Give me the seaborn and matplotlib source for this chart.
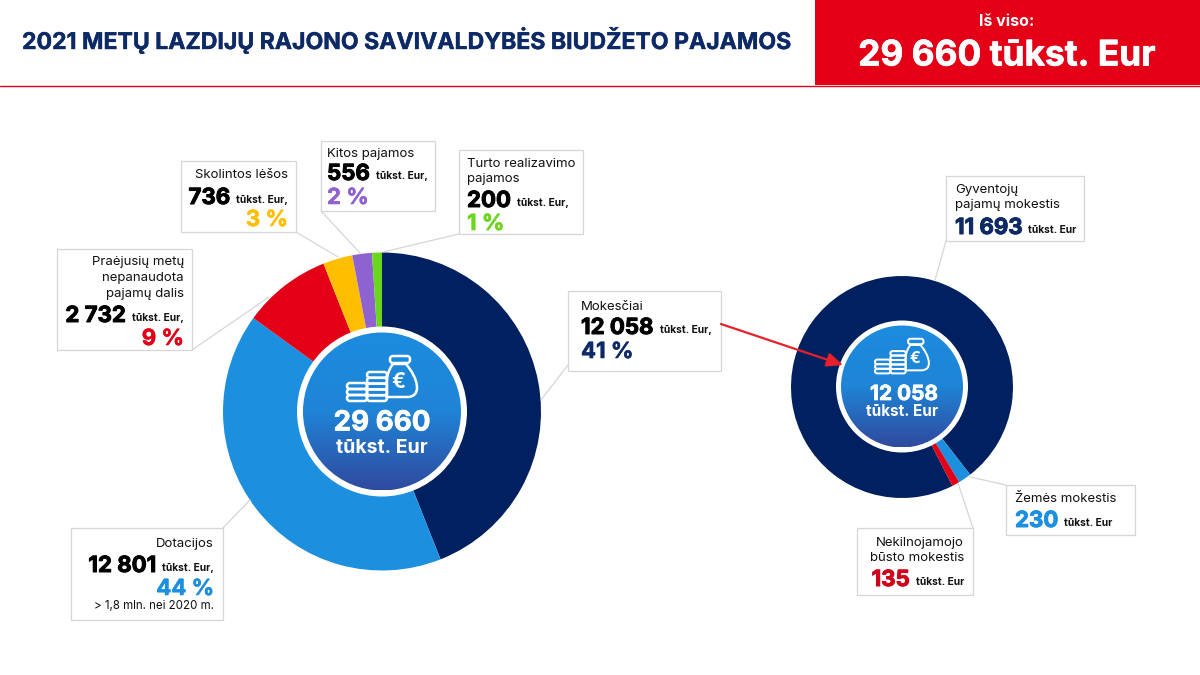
import numpy as np
import matplotlib
matplotlib.use('Agg')
import matplotlib.pyplot as plt
import matplotlib.patheffects as pe
from matplotlib.patches import Circle, Rectangle, PathPatch, FancyBboxPatch
from matplotlib.path import Path
import seaborn as sns

# Main ring: shares of the circle as drawn in the picture
main_shares = [44, 41, 9, 3, 2, 1]
main_colors = ['#00205f', '#1c8fdf', '#e30016', '#ffbe00', '#8e63cf', '#6ad71e']

# Second ring: taxes
tax_values = [11693, 230, 135]
tax_colors = ['#00205f', '#1c8fdf', '#e30016']

title_text = '2021 METŲ LAZDIJŲ RAJONO SAVIVALDYBĖS BIUDŽETO PAJAMOS'
total_label = 'Iš viso:'
total_text = '29 660 tūkst. Eur'

NAVY = '#0d2a66'
RED = '#e30016'
BOX = '#d6d6d6'

sns.set_theme(style='white')
plt.rcParams['font.family'] = ['Inter', 'DejaVu Sans']

fig = plt.figure(figsize=(12, 6.75), dpi=100, facecolor='white')


# Axes placed by pixel centre and radius so the rings land where they should
def ring_axes(cx, cy, r):
    a = fig.add_axes([(cx - r) / 1200, 1 - (cy + r) / 675, 2 * r / 1200, 2 * r / 675], zorder=1)
    a.axis('off')
    return a


ax1 = ring_axes(382, 411.5, 159)
ax1.pie(main_shares, colors=sns.color_palette(main_colors), startangle=90, counterclock=False,
        radius=1, wedgeprops={'linewidth': 0})
ax1.set_xlim(-1, 1)
ax1.set_ylim(-1, 1)

ax2 = ring_axes(902, 387, 111)
ax2.pie(tax_values, colors=sns.color_palette(tax_colors), startangle=-63, counterclock=False,
        radius=1, wedgeprops={'linewidth': 0})
ax2.set_xlim(-1, 1)
ax2.set_ylim(-1, 1)

# Overlay in image pixels for the header, boxes and texts
ax = fig.add_axes([0, 0, 1, 1], zorder=2)
ax.patch.set_alpha(0)
ax.axis('off')

gradient = np.linspace(0, 1, 256).reshape(-1, 1)
grad_cmap = sns.blend_palette(['#1c8cdf', '#1f84d6', '#2f4a9e'], as_cmap=True)


# Inter bold is lighter than the original heading face, a thin stroke fattens it
def fat(t, w=0.5):
    t.set_path_effects([pe.withStroke(linewidth=w, foreground=t.get_color())])
    return t


def hub(cx, cy, r_white, r_blue):
    ax.add_patch(Circle((cx, cy), r_white, fc='white', ec='none', zorder=3))
    im = ax.imshow(gradient, extent=(cx - r_blue, cx + r_blue, cy + r_blue, cy - r_blue),
                   cmap=grad_cmap, aspect='auto', zorder=4)
    im.set_clip_path(Circle((cx, cy), r_blue, transform=ax.transData))


def coin_stack(x, bottom, n, w, h, lw):
    for i in range(n):
        ax.add_patch(FancyBboxPatch((x, bottom - (i + 1) * h), w, h,
                                    boxstyle='round,pad=0,rounding_size=%.2f' % (h * 0.48),
                                    fc='none', ec='white', lw=lw, zorder=5))


def icon(x, y, s):
    # x, y = top left of the icon, s = scale, full size is about 71 x 46 px
    lw = 1.6 * s + 0.2
    coin_stack(x, y + 46 * s, 3, 20 * s, 6 * s, lw)
    coin_stack(x + 20 * s, y + 46 * s, 5, 20 * s, 5.8 * s, lw)
    pts = [(46, 9), (42, 14), (40, 20), (40, 26), (40, 42), (60, 42), (67, 42), (70, 38), (70, 33),
           (70, 24), (64, 15), (59, 9), (46, 9)]
    codes = [Path.MOVETO, Path.CURVE4, Path.CURVE4, Path.CURVE4, Path.LINETO, Path.LINETO,
             Path.CURVE4, Path.CURVE4, Path.CURVE4, Path.CURVE4, Path.CURVE4, Path.CURVE4, Path.CLOSEPOLY]
    bag = Path([(x + a * s, y + b * s) for a, b in pts], codes)
    ax.add_patch(PathPatch(bag, fc='none', ec='white', lw=lw, zorder=5))
    ax.add_patch(FancyBboxPatch((x + 43 * s, y + 1 * s), 20 * s, 7 * s,
                                boxstyle='round,pad=0,rounding_size=%.2f' % (3 * s),
                                fc='none', ec='white', lw=lw, zorder=5))
    ax.text(x + 52 * s, y + 27 * s, '€', color='white', fontsize=15 * s, fontweight='bold',
            ha='center', va='center', zorder=6)


hub(382, 411.5, 85, 79)
icon(347, 355, 1.0)
fat(ax.text(382, 423.5, '29 660', color='white', fontsize=20, fontweight='bold', ha='center', va='center', zorder=6))
ax.text(382, 448, 'tūkst. Eur', color='white', fontsize=14, fontweight='bold', ha='center', va='center', zorder=6)

hub(902, 386.5, 66, 61)
icon(875, 338, 0.77)
fat(ax.text(904, 394, '12 058', color='white', fontsize=15, fontweight='bold', ha='center', va='center', zorder=6))
ax.text(902, 412, 'tūkst. Eur', color='white', fontsize=11, fontweight='bold', ha='center', va='center', zorder=6)

# Header
ax.add_patch(Rectangle((815, 0), 385, 85, fc=RED, ec='none', zorder=1))
ax.plot([0, 1200], [85.5, 85.5], color=RED, lw=1, zorder=1)
fat(ax.text(22, 40, title_text, color=NAVY, fontsize=16.6, fontweight='bold', va='center', ha='left'), 0.3)
ax.text(1007, 22, total_label, color='white', fontsize=11.5, fontweight='bold', ha='center', va='center')
fat(ax.text(1007, 56, total_text, color='white', fontsize=25.4, fontweight='bold', ha='center', va='center'))

ax.set_xlim(0, 1200)
ax.set_ylim(675, 0)

renderer = fig.canvas.get_renderer()


def box(x0, y0, x1, y1, line):
    ax.plot([line[0], line[2]], [line[1], line[3]], color=BOX, lw=0.9, zorder=6)
    ax.add_patch(Rectangle((x0, y0), x1 - x0, y1 - y0, fc='white', ec=BOX, lw=0.9, zorder=7))


def label(x, ys, lines, ha):
    for y, t in zip(ys, lines):
        ax.text(x, y + 2, t, color='#111111', fontsize=9.5, ha=ha, va='center', zorder=8)


def number(x, y, num, unit, color, ha):
    n = fat(ax.text(x, y + 2, num, color=color, fontsize=16, fontweight='bold', ha=ha, va='center', zorder=8), 0.7)
    if ha == 'left':
        w = n.get_window_extent(renderer).width
        ax.text(x + w + 6, y + 4, unit, color='#111111', fontsize=7.4, fontweight='bold',
                ha='left', va='center', zorder=8)
    else:
        u = ax.text(x, y + 4, unit, color='#111111', fontsize=7.4, fontweight='bold',
                    ha='right', va='center', zorder=8)
        n.set_x(x - u.get_window_extent(renderer).width - 6)


def pct(x, y, t, color, ha):
    fat(ax.text(x, y + 2, t, color=color, fontsize=16, fontweight='bold', ha=ha, va='center', zorder=8), 0.4)


box(181, 161, 296, 232, (296, 232, 338, 257))
label(288, [173], ['Skolintos lėšos'], 'right')
number(288, 196, '736', 'tūkst. Eur,', '#000000', 'right')
pct(288, 218, '3 %', main_colors[3], 'right')

box(321, 141, 435, 211, (321, 211, 360, 253))
label(327, [152], ['Kitos pajamos'], 'left')
number(327, 172, '556', 'tūkst. Eur,', '#000000', 'left')
pct(327, 196, '2 %', main_colors[4], 'left')

box(459, 150, 583, 234, (459, 234, 383, 252))
label(467, [162, 177], ['Turto realizavimo', 'pajamos'], 'left')
number(467, 199, '200', 'tūkst. Eur,', '#000000', 'left')
pct(467, 222, '1 %', main_colors[5], 'left')

box(57, 249, 192, 350, (192, 350, 269, 297))
label(184, [260, 276, 292], ['Praėjusių metų', 'nepanaudota', 'pajamų dalis'], 'right')
number(184, 314, '2 732', 'tūkst. Eur,', '#000000', 'right')
pct(184, 337, '9 %', RED, 'right')

box(568, 291, 721, 371, (568, 365, 541, 400))
label(581, [305], ['Mokesčiai'], 'left')
number(581, 326, '12 058', 'tūkst. Eur,', '#000000', 'left')
pct(581, 350, '41 %', NAVY, 'left')

box(71, 528, 223, 620, (223, 528, 250, 500))
label(214, [542], ['Dotacijos'], 'right')
number(214, 564, '12 801', 'tūkst. Eur,', '#000000', 'right')
pct(214, 587, '44 %', main_colors[1], 'right')
ax.text(214, 606, '> 1,8 mln. nei 2020 m.', color='#111111', fontsize=8.3, ha='right', va='center', zorder=8)

box(946, 176, 1084, 241, (946, 241, 935, 280))
label(955, [188, 203], ['Gyventojų', 'pajamų mokestis'], 'left')
number(955, 226, '11 693', 'tūkst. Eur', NAVY, 'left')

box(1006, 485, 1135, 535, (1006, 485, 970, 477))
label(1015, [497], ['Žemės mokestis'], 'left')
number(1015, 519, '230', 'tūkst. Eur', main_colors[1], 'left')

box(857, 528, 973, 595, (973, 528, 958, 483))
label(964, [541, 556], ['Nekilnojamojo', 'būsto mokestis'], 'right')
number(964, 578, '135', 'tūkst. Eur', '#d0021b', 'right')

# Arrow from the tax box to the second ring
ax.annotate('', xy=(843, 365), xytext=(721, 324), zorder=9,
            arrowprops=dict(arrowstyle='-|>,head_length=0.8,head_width=0.35', color='#e8202a', lw=1.6,
                            shrinkA=0, shrinkB=0))

fig.savefig('out.png', dpi=100)
